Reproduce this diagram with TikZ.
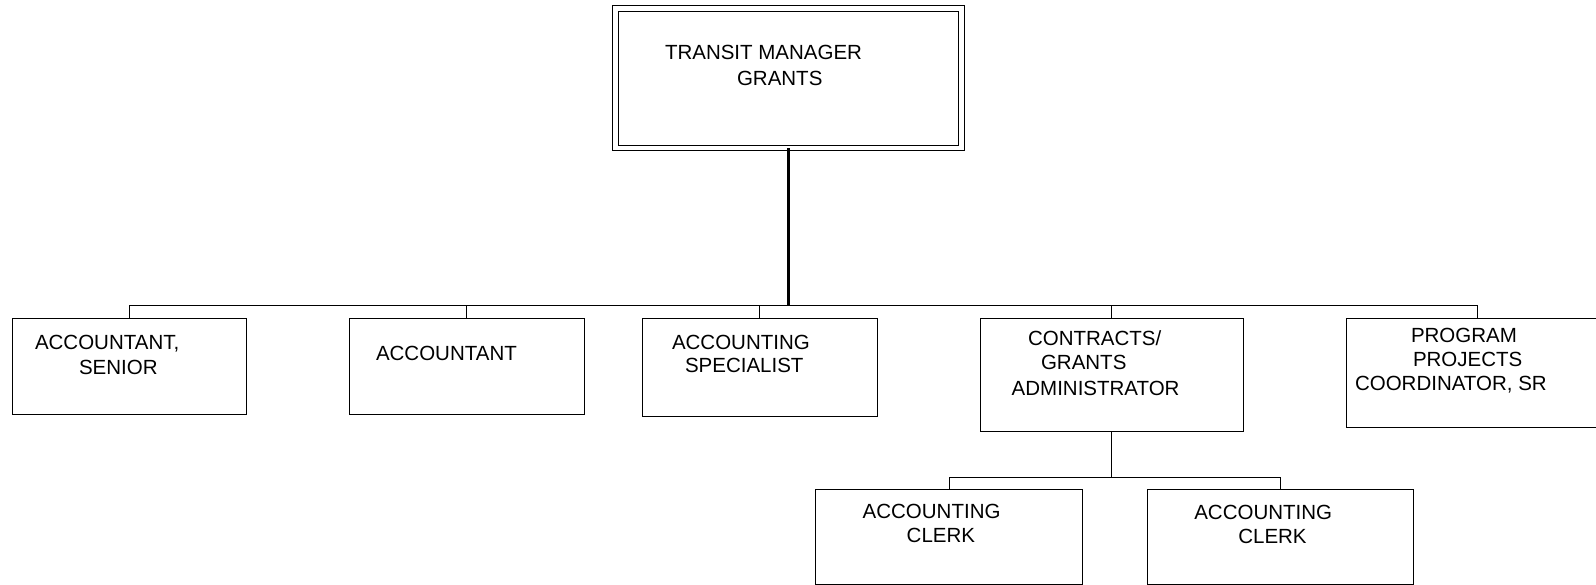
\documentclass[tikz,border=0pt]{standalone}
\usepackage{fontspec}
\setmainfont{Liberation Sans}
\begin{document}
\begin{tikzpicture}[x=1pt,y=-1pt,
  box/.style={draw=black, line width=1pt, inner sep=0pt, outer sep=0pt},
  lbl/.style={anchor=base west, inner sep=0pt, outer sep=0pt, font=\fontsize{20.5}{25}\selectfont},
  conn/.style={draw=black, line width=1pt},
  mainconn/.style={draw=black, line width=2.2pt}]
\clip (0,0) rectangle (1596,585);
\fill[white] (0,0) rectangle (1596,585);

% top box (double border)
\node[box, double, double distance=4.4pt, minimum width=346.2pt, minimum height=139.7pt] (top) at (788.5,78.35) {};

% level boxes
\node[box, minimum width=234.4pt, minimum height=96pt] (b1) at (129.5,366.3) {};
\node[box, minimum width=235pt, minimum height=96pt] (b2) at (466.5,366.3) {};
\node[box, minimum width=234.7pt, minimum height=98.4pt] (b3) at (759.7,367.5) {};
\node[box, minimum width=263.3pt, minimum height=113pt] (b4) at (1111.7,374.8) {};
\node[box, minimum width=263.4pt, minimum height=109pt] (b5) at (1477.7,372.8) {};
\node[box, minimum width=266.7pt, minimum height=94.7pt] (c1) at (949.3,536.7) {};
\node[box, minimum width=266.3pt, minimum height=94.7pt] (c2) at (1280.8,536.7) {};

% bus coordinates
\coordinate (bus) at (0,306);
\coordinate (sub) at (0,477.3);

% connectors
\draw[mainconn] (top.south) -- (top.south |- bus);
\draw[conn] (b1.north) |- (b5.north |- bus) -- (b5.north);
\draw[conn] (b2.north) -- (b2.north |- bus);
\draw[conn] (b3.north) -- (b3.north |- bus);
\draw[conn] (b4.north) -- (b4.north |- bus);
\draw[conn] (b4.south) -- (b4.south |- sub);
\draw[conn] (c1.north) |- (c2.north |- sub) -- (c2.north);

% labels
\node[lbl] (t0a) at (665,60) {TRANSIT MANAGER};
\node[lbl] (t0b) at (737,86) {GRANTS};

\node[lbl] (t1a) at (35,349) {ACCOUNTANT,};
\node[lbl] (t1b) at (79,374.5) {SENIOR};

\node[lbl] (t2a) at (376,360) {ACCOUNTANT};

\node[lbl] (t3a) at (672,349) {ACCOUNTING};
\node[lbl] (t3b) at (685,373) {SPECIALIST};

\node[lbl] (t4a) at (1028,345) {CONTRACTS/};
\node[lbl] (t4b) at (1041,370) {GRANTS};
\node[lbl] (t4c) at (1011.7,395) {ADMINISTRATOR};

\node[lbl] (t5a) at (1411,342.7) {PROGRAM};
\node[lbl] (t5b) at (1413,366.5) {PROJECTS};
\node[lbl] (t5c) at (1355,390.5) {COORDINATOR, SR};

\node[lbl] (t6a) at (862.7,518.3) {ACCOUNTING};
\node[lbl] (t6b) at (906.7,542.7) {CLERK};

\node[lbl] (t7a) at (1194.3,519) {ACCOUNTING};
\node[lbl] (t7b) at (1238.3,543.3) {CLERK};
\end{tikzpicture}
\end{document}
